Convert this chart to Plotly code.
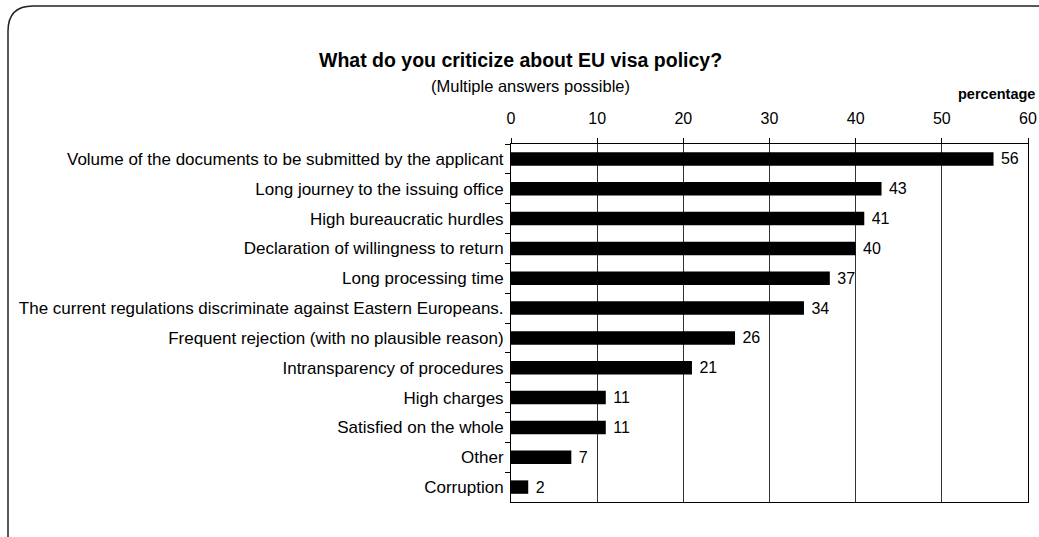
import plotly.graph_objects as go

categories = [
    "Volume of the documents to be submitted by the applicant",
    "Long journey to the issuing office",
    "High bureaucratic hurdles",
    "Declaration of willingness to return",
    "Long processing time",
    "The current regulations discriminate against Eastern Europeans.",
    "Frequent rejection (with no plausible reason)",
    "Intransparency of procedures",
    "High charges",
    "Satisfied on the whole",
    "Other",
    "Corruption",
]
values = [56, 43, 41, 40, 37, 34, 26, 21, 11, 11, 7, 2]
x_ticks = [0, 10, 20, 30, 40, 50, 60]

W, H = 1039, 537
L, R, T, B = 511, 1028, 144, 502
PW, PH = R - L, B - T
FONT = "Liberation Sans, Arial, sans-serif"


def px(x):
    return (x - L) / PW


def py(y):
    return (B - y) / PH


fig = go.Figure()
fig.add_trace(go.Bar(
    y=categories, x=values, orientation="h",
    marker=dict(color="black", line=dict(width=0)),
    width=0.45,
    text=[" " + str(v) for v in values], textposition="outside",
    textfont=dict(family=FONT, size=16, color="black"),
    constraintext="none",
    cliponaxis=False,
))

# rounded outer frame
x0, y0, x1, y1, r = 8, 6, 1050, 550, 25
path = (
    f"M {px(x0)},{py(y1)} L {px(x0)},{py(y0 + r)} "
    f"Q {px(x0)},{py(y0)} {px(x0 + r)},{py(y0)} "
    f"L {px(x1)},{py(y0)}"
)
fig.add_shape(type="path", path=path, xref="paper", yref="paper",
              line=dict(color="#222", width=1.5))

fig.add_annotation(text="<b>What do you criticize about EU visa policy?</b>",
                   x=px(520), y=py(60), xref="paper", yref="paper",
                   showarrow=False, xanchor="center", yanchor="middle",
                   font=dict(family=FONT, size=19.5, color="black"))
fig.add_annotation(text="(Multiple answers possible)",
                   x=px(530), y=py(86), xref="paper", yref="paper",
                   showarrow=False, xanchor="center", yanchor="middle",
                   font=dict(family=FONT, size=16.5, color="black"))
fig.add_annotation(text="<b>percentage</b>",
                   x=px(1037), y=py(94), xref="paper", yref="paper",
                   showarrow=False, xanchor="right", yanchor="middle",
                   font=dict(family=FONT, size=14.5, color="black"))

fig.update_layout(
    width=W, height=H,
    margin=dict(l=L, r=W - R, t=T, b=H - B),
    paper_bgcolor="white", plot_bgcolor="white",
    showlegend=False,
    font=dict(family=FONT, size=16, color="black"),
    xaxis=dict(
        side="top", range=[0, 60], tickvals=x_ticks,
        ticks="outside", ticklen=5, tickcolor="black",
        showline=True, linecolor="black", linewidth=1, mirror=True,
        showgrid=True, gridcolor="#333", gridwidth=1,
        zeroline=False, tickfont=dict(size=16), automargin=False,
        ticklabelstandoff=8,
    ),
    yaxis=dict(
        autorange="reversed", type="category",
        ticks="outside", ticklen=5, tickcolor="black", tickson="boundaries",
        showline=True, linecolor="black", linewidth=1, mirror=True,
        showgrid=False, tickfont=dict(size=17), automargin=False,
        ticklabelstandoff=3,
    ),
)

fig.write_html(
    "out.html",
    config={"displayModeBar": False},
    post_script="document.body.style.margin='0';document.body.style.overflow='hidden';",
)
